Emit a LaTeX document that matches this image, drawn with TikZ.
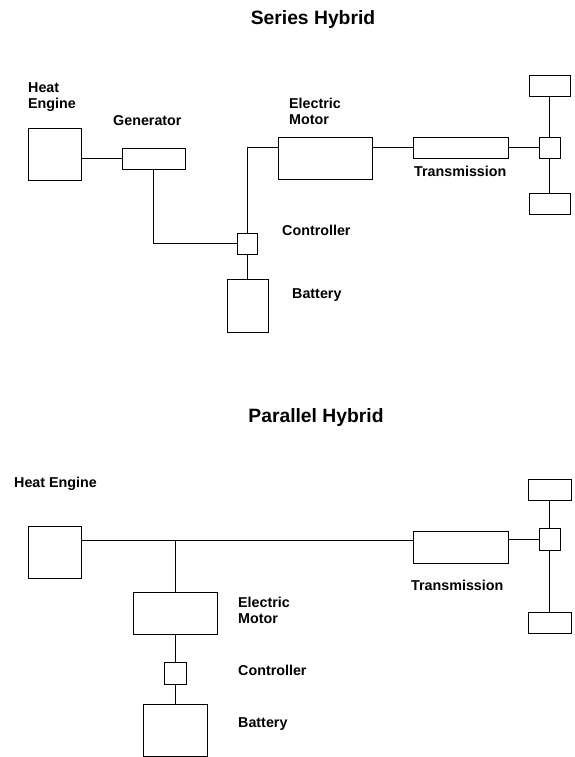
\documentclass[tikz,border=0pt]{standalone}
\usepackage{fontspec}
\setmainfont{Liberation Sans}
\begin{document}
\begin{tikzpicture}[
    x=1pt, y=-1pt,
    unit/.style={draw, rectangle, inner sep=0pt, line width=0.9pt},
    link/.style={line width=0.9pt},
    lbl/.style={font=\fontsize{14.3}{16}\selectfont\bfseries, anchor=north west,
        inner sep=0pt, align=left},
    ttl/.style={font=\fontsize{19.3}{22}\selectfont\bfseries, anchor=base, inner sep=0pt}
]

%% rozmery obrazku
\useasboundingbox[fill=white] (0,0) rectangle (575,757);

%% ---------- Series Hybrid ----------
\node[ttl] (title1) at (313,25) {Series Hybrid};

\node[unit, minimum width=53pt, minimum height=52pt] (he1)  at (54.5,154)   {};
\node[unit, minimum width=63pt, minimum height=21pt] (gen1) at (153.5,158.5) {};
\node[unit, minimum width=20pt, minimum height=21pt] (ctl1) at (247,243.5)  {};
\node[unit, minimum width=41pt, minimum height=53pt] (bat1) at (247.5,305.5) {};
\node[unit, minimum width=94pt, minimum height=42pt] (em1)  at (325,158)    {};
\node[unit, minimum width=95pt, minimum height=21pt] (tr1)  at (460.5,147.5) {};
\node[unit, minimum width=21pt, minimum height=21pt] (df1)  at (549.5,147.5) {};
\node[unit, minimum width=41pt, minimum height=21pt] (wt1)  at (549.5,85.5)  {};
\node[unit, minimum width=41pt, minimum height=21pt] (wb1)  at (549.5,203.5) {};

\node[lbl] (helbl1)  at (28,82)   {Heat\\Engine};
\node[lbl] (genlbl1) at (113,115) {Generator};
\node[lbl] (emlbl1)  at (289,98)  {Electric\\Motor};
\node[lbl] (trlbl1)  at (414,166) {Transmission};
\node[lbl] (ctllbl1) at (282,225) {Controller};
\node[lbl] (batlbl1) at (292,288) {Battery};

\draw[link] (gen1.west -| he1.east) -- (gen1.west);
\draw[link] (gen1.south) |- (ctl1.west);
\draw[link] (ctl1.north) |- (tr1.west -| em1.west);
\draw[link] (tr1.west -| em1.east) -- (tr1.west);
\draw[link] (tr1.east) -- (df1.west);
\draw[link] (ctl1.south) -- (ctl1.south |- bat1.north);
\draw[link] (wt1.south) -- (df1.north);
\draw[link] (df1.south) -- (wb1.north);

%% ---------- Parallel Hybrid ----------
\node[ttl] (title2) at (316,422) {Parallel Hybrid};

\coordinate (shaft) at (0,540);

\node[unit, minimum width=53pt, minimum height=52pt] (he2)  at (54.5,552)  {};
\node[unit, minimum width=84pt, minimum height=42pt] (em2)  at (175,613)   {};
\node[unit, minimum width=22pt, minimum height=22pt] (ctl2) at (175,673)   {};
\node[unit, minimum width=64pt, minimum height=52pt] (bat2) at (175,730)   {};
\node[unit, minimum width=95pt, minimum height=32pt] (tr2)  at (460.5,547) {};
\node[unit, minimum width=21pt, minimum height=22pt] (df2)  at (549.5,539) {};
\node[unit, minimum width=43pt, minimum height=21pt] (wt2)  at (549.5,489.5) {};
\node[unit, minimum width=43pt, minimum height=21pt] (wb2)  at (549.5,622.5) {};

\node[lbl] (helbl2)  at (14,477)  {Heat Engine};
\node[lbl] (emlbl2)  at (238,597) {Electric\\Motor};
\node[lbl] (ctllbl2) at (238,665) {Controller};
\node[lbl] (batlbl2) at (238,717) {Battery};
\node[lbl] (trlbl2)  at (411,580) {Transmission};

\draw[link] (he2.east |- shaft) -- (tr2.west |- shaft);
\draw[link] (tr2.east |- df2.west) -- (df2.west);
\draw[link] (em2.north |- shaft) -- (em2.north);
\draw[link] (em2.south) -- (ctl2.north);
\draw[link] (ctl2.south) -- (bat2.north);
\draw[link] (wt2.south) -- (df2.north);
\draw[link] (df2.south) -- (wb2.north);

\end{tikzpicture}
\end{document}
